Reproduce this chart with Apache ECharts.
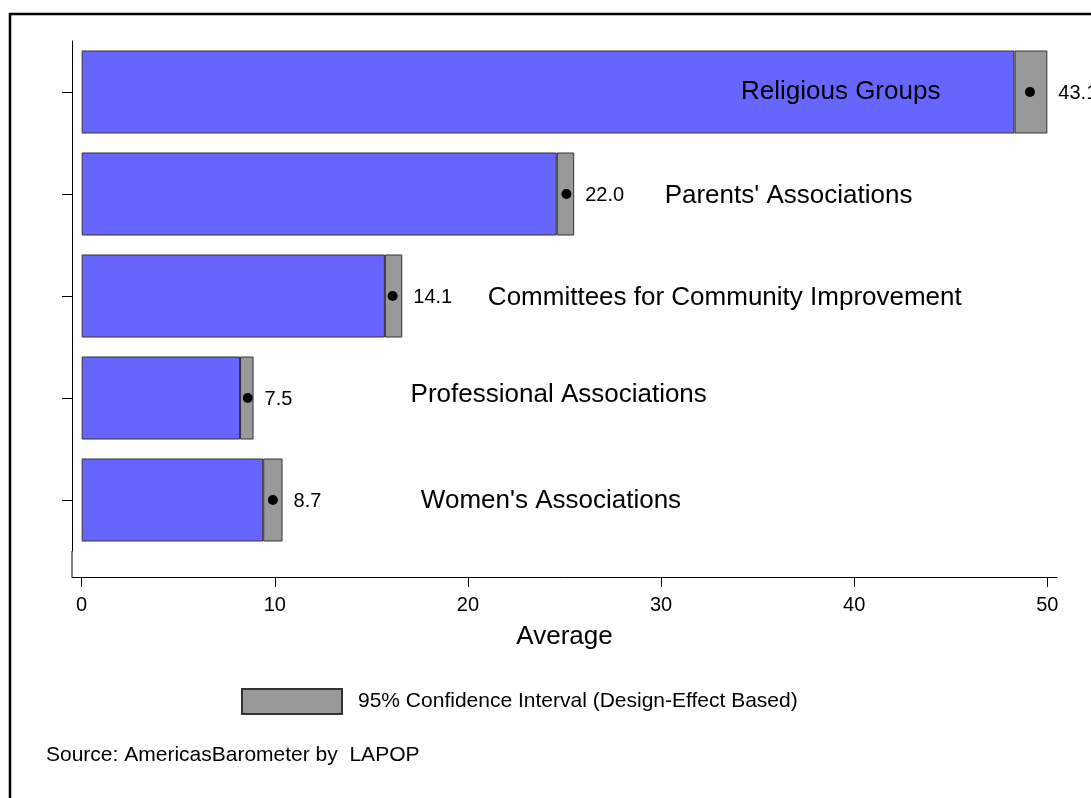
<!DOCTYPE html>
<html>
<head>
<meta charset="utf-8">
<script src="https://cdn.jsdelivr.net/npm/echarts@6/dist/echarts.min.js"></script>
<style>
  html, body { margin: 0; padding: 0; background: #ffffff; }
  #chart { width: 1091px; height: 798px; }
</style>
</head>
<body>
<div id="chart"></div>
<script>
// ---- Data ----
const categories = [
  'Religious Groups',
  "Parents' Associations",
  'Committees for Community Improvement',
  'Professional Associations',
  "Women's Associations"
];
const ciLower = [48.3, 24.6, 15.7, 8.2, 9.4];
const ciUpper = [50.0, 25.5, 16.6, 8.9, 10.4];
const means = [49.1, 25.1, 16.1, 8.6, 9.9];
const printedValues = ['43.1', '22.0', '14.1', '7.5', '8.7'];
const xTicks = [0, 10, 20, 30, 40, 50];
const ciLegendName = '95% Confidence Interval (Design-Effect Based)';
const sourceText = 'Source: AmericasBarometer by  LAPOP';
const axisName = 'Average';

// ---- Layout (where the category names sit, in axis units / px offsets) ----
const nameLayout = {
  x: [39.3, 36.6, 33.3, 24.7, 24.3],
  dy: [0, 2, 2, -3, 1]
};

const FONT = "'Liberation Sans', Arial, Helvetica, sans-serif";
const chart = echarts.init(document.getElementById('chart'), null, { renderer: 'canvas' });

const option = {
  animation: false,
  backgroundColor: '#ffffff',
  textStyle: { fontFamily: FONT, color: '#000' },
  title: {
    text: sourceText,
    left: 46,
    top: 745,
    padding: 0,
    textStyle: { fontFamily: FONT, fontSize: 21, fontWeight: 'normal', color: '#000' }
  },
  legend: {
    data: [ciLegendName],
    left: 241,
    top: 688,
    padding: 0,
    itemWidth: 100,
    itemHeight: 25,
    icon: 'rect',
    textStyle: { fontFamily: FONT, fontSize: 21, color: '#000', padding: [0, 0, 0, 11] },
    selectedMode: false
  },
  grid: {
    left: 72,
    right: 34,
    top: 41,
    bottom: 247,
    containLabel: false,
    outerBoundsMode: 'none'
  },
  xAxis: {
    type: 'value',
    min: -0.5,
    max: 50.5,
    position: 'bottom',
    offset: 26,
    name: axisName,
    nameLocation: 'middle',
    nameGap: 47,
    nameTextStyle: { fontFamily: FONT, fontSize: 26, color: '#000' },
    splitLine: { show: false },
    axisLine: { show: true, onZero: false, lineStyle: { color: '#000', width: 1 } },
    axisTick: { show: true, length: 10, customValues: xTicks, lineStyle: { color: '#000', width: 1 } },
    axisLabel: { show: true, customValues: xTicks, margin: 18, fontFamily: FONT, fontSize: 20, color: '#000' }
  },
  yAxis: {
    type: 'category',
    data: categories,
    inverse: true,
    axisLine: { show: true, onZero: false, lineStyle: { color: '#000', width: 1 } },
    axisTick: { show: true, alignWithLabel: true, length: 10, lineStyle: { color: '#000', width: 1 } },
    axisLabel: { show: false },
    splitLine: { show: false }
  },
  series: [
    {
      name: 'Mean',
      type: 'bar',
      stack: 'ci',
      barWidth: 83,
      data: ciLower,
      itemStyle: { color: '#6666FF', borderColor: '#333333', borderWidth: 1 },
      z: 2
    },
    {
      name: ciLegendName,
      type: 'bar',
      stack: 'ci',
      barWidth: 83,
      data: ciUpper.map((u, i) => +(u - ciLower[i]).toFixed(2)),
      itemStyle: { color: '#999999', borderColor: '#333333', borderWidth: 1 },
      label: {
        show: true,
        position: 'right',
        distance: 11,
        offset: [0, 1],
        fontFamily: FONT,
        fontSize: 20,
        color: '#000',
        formatter: p => printedValues[p.dataIndex]
      },
      z: 2
    },
    {
      name: 'Point',
      type: 'scatter',
      data: means.map((m, i) => [m, categories[i]]),
      symbol: 'circle',
      symbolSize: 10,
      itemStyle: { color: '#000', opacity: 1 },
      z: 5
    },
    {
      name: 'Names',
      type: 'scatter',
      data: categories.map((c, i) => ({
        value: [nameLayout.x[i], c],
        label: { offset: [0, nameLayout.dy[i]] }
      })),
      symbolSize: 1,
      itemStyle: { color: 'rgba(0,0,0,0)', opacity: 1 },
      label: {
        show: true,
        position: 'inside',
        fontFamily: FONT,
        fontSize: 26,
        color: '#000',
        textBorderWidth: 0,
        formatter: p => categories[p.dataIndex]
      },
      silent: true,
      z: 6
    }
  ],
  graphic: [
    {
      type: 'rect',
      shape: { x: 10, y: 14, width: 1300, height: 1000 },
      style: { fill: 'none', stroke: '#000', lineWidth: 2.5 },
      silent: true,
      z: 100
    },
    {
      type: 'line',
      shape: { x1: 72, y1: 551, x2: 72, y2: 577 },
      style: { stroke: '#000', lineWidth: 1 },
      silent: true
    }
  ]
};

chart.setOption(option);
</script>
</body>
</html>
